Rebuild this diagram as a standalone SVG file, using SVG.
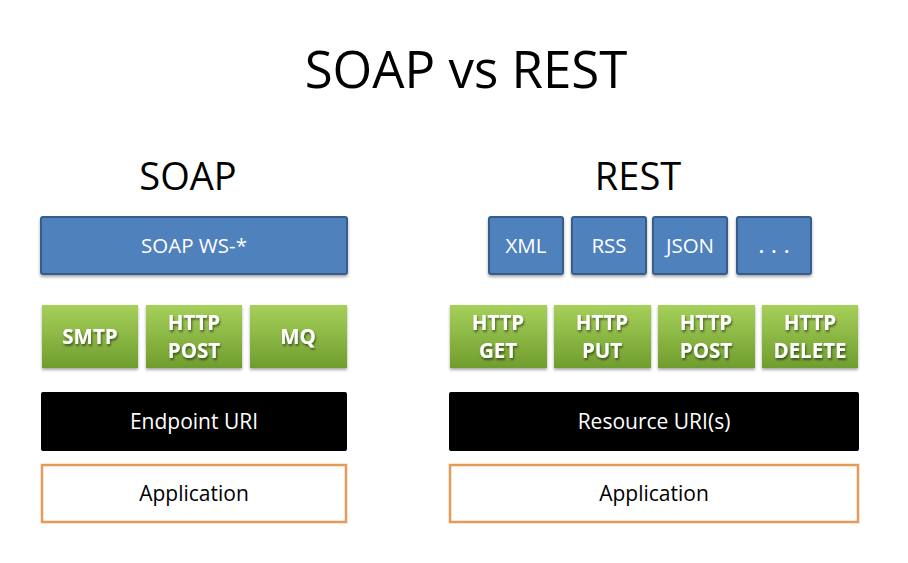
<svg xmlns="http://www.w3.org/2000/svg" width="908" height="563" viewBox="0 0 908 563">
<defs>
<linearGradient id="g" x1="0" y1="0" x2="0" y2="1">
<stop offset="0" stop-color="#a6d05a"/>
<stop offset="1" stop-color="#6f9d2e"/>
</linearGradient>
<filter id="sh" x="-10%" y="-10%" width="120%" height="130%">
<feGaussianBlur in="SourceAlpha" stdDeviation="1.5"/>
<feOffset dx="0" dy="2" result="b"/>
<feComponentTransfer><feFuncA type="linear" slope="0.35"/></feComponentTransfer>
<feMerge><feMergeNode/><feMergeNode in="SourceGraphic"/></feMerge>
</filter>
<filter id="ts" x="-10%" y="-10%" width="120%" height="130%">
<feGaussianBlur in="SourceAlpha" stdDeviation="0.8"/>
<feOffset dx="1" dy="1.5" result="b"/>
<feComponentTransfer><feFuncA type="linear" slope="0.5"/></feComponentTransfer>
<feMerge><feMergeNode/><feMergeNode in="SourceGraphic"/></feMerge>
</filter>
</defs>
<style>
text{font-family:"Open Sans","Liberation Sans",sans-serif;text-anchor:middle}
.blue{fill:#4f81bd;stroke:#385d8a;stroke-width:2}
.green{fill:url(#g);stroke:none}
.black{fill:#000}
.app{fill:#fff;stroke:#e39b55;stroke-width:2.5}
.wt{fill:#fff;font-size:20.5px}
.gt{fill:#fff;font-size:20.5px;font-weight:bold}
.at{fill:#000;font-size:21px}
.h1{font-size:51px;fill:#000}
.h2{font-size:38px;fill:#000}
</style>
<rect width="908" height="563" fill="#fff"/>
<text class="h1" x="466" y="88">SOAP vs REST</text>
<text class="h2" x="188" y="190">SOAP</text>
<text class="h2" x="638" y="190">REST</text>

<g id="soap-ws">
<rect class="blue" x="41" y="217" width="306" height="57" rx="2" filter="url(#sh)"/>
<text class="wt" x="194" y="253">SOAP WS-*</text>
</g>
<g id="smtp">
<rect class="green" x="42" y="305" width="96" height="63" filter="url(#sh)"/>
<text class="gt" x="90" y="344" filter="url(#ts)">SMTP</text>
</g>
<g id="http-post-soap">
<rect class="green" x="146" y="305" width="96" height="63" filter="url(#sh)"/>
<text class="gt" x="194" y="330" filter="url(#ts)">HTTP</text>
<text class="gt" x="194" y="358" filter="url(#ts)">POST</text>
</g>
<g id="mq">
<rect class="green" x="250" y="305" width="97" height="63" filter="url(#sh)"/>
<text class="gt" x="298" y="344" filter="url(#ts)">MQ</text>
</g>
<g id="endpoint-uri">
<rect class="black" x="41" y="392" width="306" height="59" rx="2"/>
<text class="wt" x="194" y="429" style="font-size:21px">Endpoint URI</text>
</g>
<g id="app-soap">
<rect class="app" x="42" y="465" width="304" height="57"/>
<text class="at" x="194" y="501">Application</text>
</g>

<g id="xml">
<rect class="blue" x="489" y="217" width="74" height="57" rx="2" filter="url(#sh)"/>
<text class="wt" x="526" y="253">XML</text>
</g>
<g id="rss">
<rect class="blue" x="572" y="217" width="74" height="57" rx="2" filter="url(#sh)"/>
<text class="wt" x="609" y="253">RSS</text>
</g>
<g id="json">
<rect class="blue" x="653" y="217" width="74" height="57" rx="2" filter="url(#sh)"/>
<text class="wt" x="690" y="253">JSON</text>
</g>
<g id="more">
<rect class="blue" x="737" y="217" width="74" height="57" rx="2" filter="url(#sh)"/>
<text class="wt" x="774" y="253" style="font-size:24px">. . .</text>
</g>
<g id="http-get">
<rect class="green" x="450" y="305" width="97" height="63" filter="url(#sh)"/>
<text class="gt" x="498" y="330" filter="url(#ts)">HTTP</text>
<text class="gt" x="498" y="358" filter="url(#ts)">GET</text>
</g>
<g id="http-put">
<rect class="green" x="554" y="305" width="97" height="63" filter="url(#sh)"/>
<text class="gt" x="602" y="330" filter="url(#ts)">HTTP</text>
<text class="gt" x="602" y="358" filter="url(#ts)">PUT</text>
</g>
<g id="http-post-rest">
<rect class="green" x="658" y="305" width="97" height="63" filter="url(#sh)"/>
<text class="gt" x="706" y="330" filter="url(#ts)">HTTP</text>
<text class="gt" x="706" y="358" filter="url(#ts)">POST</text>
</g>
<g id="http-delete">
<rect class="green" x="762" y="305" width="96" height="63" filter="url(#sh)"/>
<text class="gt" x="810" y="330" filter="url(#ts)">HTTP</text>
<text class="gt" x="810" y="358" filter="url(#ts)">DELETE</text>
</g>
<g id="resource-uri">
<rect class="black" x="449" y="392" width="410" height="59" rx="2"/>
<text class="wt" x="654" y="429" style="font-size:21px">Resource URI(s)</text>
</g>
<g id="app-rest">
<rect class="app" x="450" y="465" width="408" height="57"/>
<text class="at" x="654" y="501">Application</text>
</g>
<g id="connectors"/>
</svg>
